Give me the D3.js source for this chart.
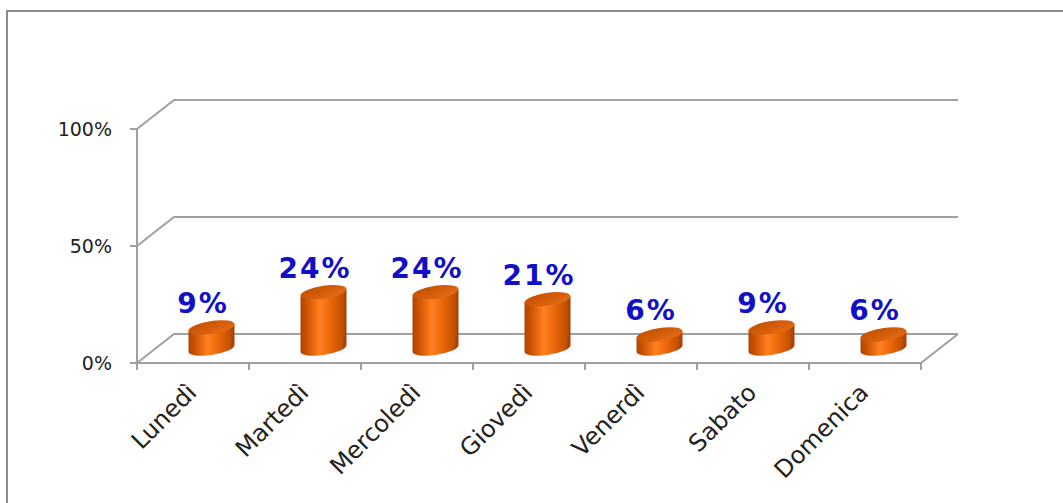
<!DOCTYPE html>
<html><head><meta charset="utf-8">
<script src="https://cdn.jsdelivr.net/npm/d3@7/dist/d3.min.js"></script>
<style>html,body{margin:0;padding:0;background:#fff;overflow:hidden}</style>
</head><body>
<svg id="c" width="1063" height="503"></svg>
<script>
const categories = ["Lunedì","Martedì","Mercoledì","Giovedì","Venerdì","Sabato","Domenica"];
const values = [9,24,24,21,6,9,6];
const yTicks = [0,50,100];
const yTickLabels = ["0%","50%","100%"];

const svg = d3.select("#c");
const depthX = 37, depthY = -29;

const x = d3.scaleBand().domain(categories).range([137, 921]).paddingInner(0).paddingOuter(0);
const y = d3.scaleLinear().domain([0,100]).range([363,129]);

// outer border
svg.append("rect").attr("x",7).attr("y",11).attr("width",1200).attr("height",700)
  .attr("fill","#fff").attr("stroke","#8c8c8c").attr("stroke-width",2);

const defs = svg.append("defs");
const gb = defs.append("linearGradient").attr("id","body").attr("x1","0").attr("x2","1").attr("y1","0").attr("y2","0");
[["0%","#b04200"],["18%","#d55a02"],["42%","#ff8022"],["62%","#f06a0a"],["88%","#c85200"],["100%","#a33d00"]]
  .forEach(s=>gb.append("stop").attr("offset",s[0]).attr("stop-color",s[1]));
const gt = defs.append("linearGradient").attr("id","top").attr("x1","0").attr("x2","1").attr("y1","0").attr("y2","1");
[["0%","#c04e00"],["60%","#d8600c"],["100%","#e6701a"]]
  .forEach(s=>gt.append("stop").attr("offset",s[0]).attr("stop-color",s[1]));

const gridColor = "#a0a0a0";
const g = svg.append("g");

const x0 = x.range()[0], x1 = x.range()[1];
yTicks.forEach(t=>{
  const yf = y(t);
  g.append("path")
    .attr("d", `M${x0},${yf} L${x0+depthX},${yf+depthY} L${x1+depthX},${yf+depthY}`)
    .attr("fill","none").attr("stroke",gridColor).attr("stroke-width",2);
});
g.append("path")
  .attr("d", `M${x0},${y(0)} L${x1},${y(0)} L${x1+depthX},${y(0)+depthY}`)
  .attr("fill","none").attr("stroke",gridColor).attr("stroke-width",2);

g.append("line").attr("x1",x0).attr("x2",x0).attr("y1",y(100)).attr("y2",y(0)+7)
  .attr("stroke",gridColor).attr("stroke-width",2);
yTicks.forEach((t,i)=>{
  g.append("line").attr("x1",x0-7).attr("x2",x0).attr("y1",y(t)).attr("y2",y(t))
    .attr("stroke",gridColor).attr("stroke-width",2);
  g.append("text").attr("x",112).attr("y",y(t)).attr("dy","0.36em")
    .attr("text-anchor","end").attr("font-family","DejaVu Sans, sans-serif")
    .attr("font-size",19).attr("fill","#222").text(yTickLabels[i]);
});
categories.forEach(c=>{
  const bx = x(c) + x.bandwidth();
  g.append("line").attr("x1",bx).attr("x2",bx).attr("y1",y(0)).attr("y2",y(0)+7)
    .attr("stroke",gridColor).attr("stroke-width",2);
});
categories.forEach(c=>{
  const cx = x(c) + x.bandwidth()/2 + 5;
  const cy = y(0) + 31;
  g.append("text").attr("transform",`translate(${cx},${cy}) rotate(-45)`)
    .attr("text-anchor","end").attr("font-family","DejaVu Sans, sans-serif")
    .attr("font-size",24).attr("fill","#222").text(c);
});

const rx = 23, ry = 6.5;
categories.forEach((c,i)=>{
  const cx = x(c) + x.bandwidth()/2 + depthX/2;
  const yb = y(0) + depthY/2;
  const yt = y(values[i]) + depthY/2;
  const cg = g.append("g").attr("transform",`translate(${cx},0) skewY(-8) translate(${-cx},0)`);
  cg.append("path")
    .attr("d",`M${cx-rx},${yt} L${cx-rx},${yb} A${rx},${ry} 0 0 0 ${cx+rx},${yb} L${cx+rx},${yt} Z`)
    .attr("fill","url(#body)");
  cg.append("ellipse").attr("cx",cx).attr("cy",yt).attr("rx",rx).attr("ry",ry)
    .attr("fill","url(#top)");
  g.append("text").attr("x", x(c) + x.bandwidth()/2 + 10).attr("y", yt - 14)
    .attr("text-anchor","middle").attr("font-family","DejaVu Sans, sans-serif")
    .attr("font-weight","bold").attr("font-size",28).attr("letter-spacing",2)
    .attr("fill","#1010c8")
    .text(values[i] + "%");
});
</script>
</body></html>
